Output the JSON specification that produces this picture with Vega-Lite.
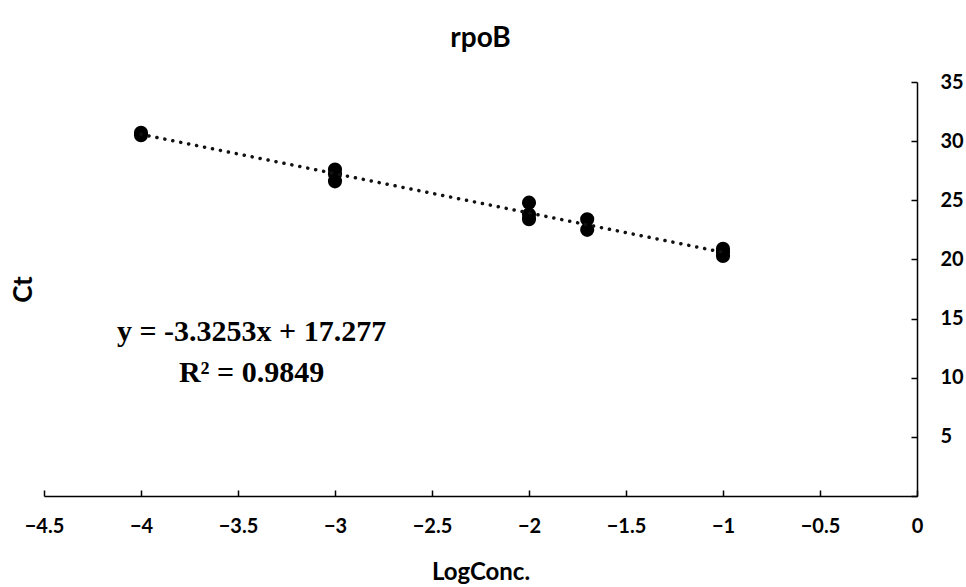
{
  "$schema": "https://vega.github.io/schema/vega-lite/v6.json",
  "autosize": "none",
  "width": 873,
  "height": 414,
  "padding": {"left": 44, "top": 82, "right": 49, "bottom": 91},
  "background": "white",
  "config": {"view": {"stroke": null}, "axis": {"grid": false}},
  "title": {"text": "rpoB", "font": "Lato", "fontSize": 28, "fontWeight": "bold", "color": "black", "offset": 19, "anchor": "middle"},
  "datasets": {
    "points": [
      {"LogConc": -4, "Ct": 30.7},
      {"LogConc": -4, "Ct": 30.5},
      {"LogConc": -3, "Ct": 27.6},
      {"LogConc": -3, "Ct": 27.2},
      {"LogConc": -3, "Ct": 26.6},
      {"LogConc": -2, "Ct": 24.8},
      {"LogConc": -2, "Ct": 23.8},
      {"LogConc": -2, "Ct": 23.4},
      {"LogConc": -1.7, "Ct": 23.4},
      {"LogConc": -1.7, "Ct": 22.5},
      {"LogConc": -1, "Ct": 20.9},
      {"LogConc": -1, "Ct": 20.6},
      {"LogConc": -1, "Ct": 20.3}
    ],
    "trend": [
      {"LogConc": -4, "Ct": 30.578},
      {"LogConc": -1, "Ct": 20.602}
    ],
    "labels": [
      {"LogConc": -3.43, "Ct": 13.9, "text": "y = -3.3253x + 17.277"},
      {"LogConc": -3.43, "Ct": 10.4, "text": "R² = 0.9849"}
    ]
  },
  "layer": [
    {
      "data": {"name": "points"},
      "mark": {"type": "point", "filled": true, "shape": "circle", "size": 200, "color": "black", "opacity": 1},
      "encoding": {
        "x": {"field": "LogConc", "type": "quantitative",
          "scale": {"domain": [-4.5, 0], "nice": false, "zero": false},
          "axis": {"title": "LogConc.", "values": [-4.5, -4, -3.5, -3, -2.5, -2, -1.5, -1, -0.5, 0], "format": "~g",
            "domainColor": "black", "domainWidth": 1.5, "tickColor": "black", "tickWidth": 1.5, "tickSize": -6,
            "labelFont": "Lato", "labelFontSize": 20, "labelFontWeight": "bold", "labelColor": "black", "labelPadding": 26,
            "labelFlush": false,
            "titleFont": "Lato", "titleFontSize": 24, "titleFontWeight": "bold", "titleColor": "black", "titlePadding": 24}},
        "y": {"field": "Ct", "type": "quantitative",
          "scale": {"domain": [0, 35], "nice": false},
          "axis": {"orient": "right", "title": null, "values": [0, 5, 10, 15, 20, 25, 30, 35],
            "labelExpr": "datum.value == 0 ? '' : datum.label",
            "domainColor": "black", "domainWidth": 1.5, "tickColor": "black", "tickWidth": 1.5, "tickSize": -6,
            "labelFont": "Lato", "labelFontSize": 20, "labelFontWeight": "bold", "labelColor": "black", "labelPadding": 29}}
      }
    },
    {
      "data": {"name": "trend"},
      "mark": {"type": "line", "color": "#111111", "strokeWidth": 3.5, "strokeDash": [0.1, 8], "strokeCap": "round"},
      "encoding": {
        "x": {"field": "LogConc", "type": "quantitative"},
        "y": {"field": "Ct", "type": "quantitative", "axis": {"orient": "left", "title": "Ct", "domain": false, "ticks": false, "labels": false,
          "titleFont": "Lato", "titleFontSize": 26, "titleFontWeight": "bold", "titleColor": "black", "titlePadding": 8}}
      }
    },
    {
      "data": {"name": "labels"},
      "mark": {"type": "text", "font": "Liberation Serif", "fontSize": 30, "fontWeight": "bold", "color": "black", "align": "center", "baseline": "middle"},
      "encoding": {
        "x": {"field": "LogConc", "type": "quantitative"},
        "y": {"field": "Ct", "type": "quantitative", "axis": null},
        "text": {"field": "text"}
      }
    }
  ],
  "resolve": {"axis": {"y": "independent"}}
}
